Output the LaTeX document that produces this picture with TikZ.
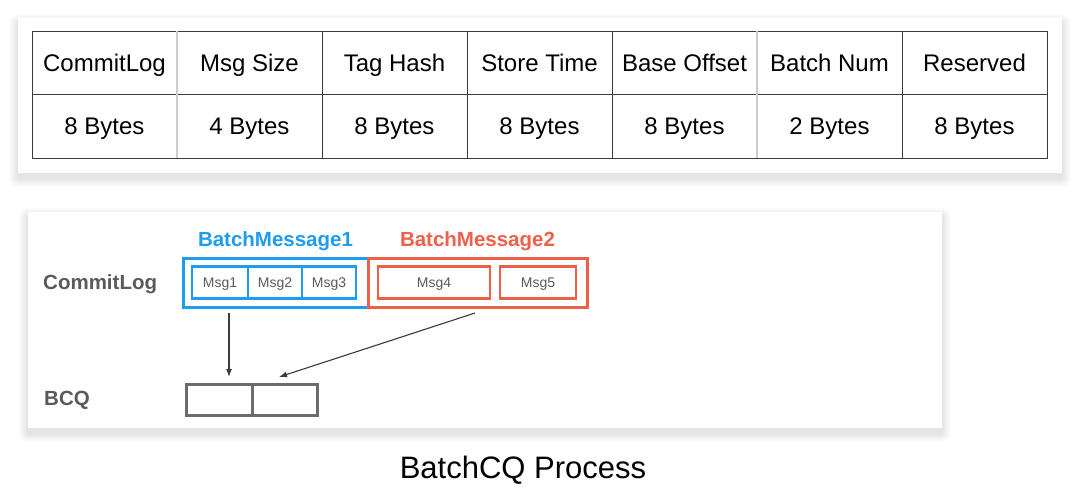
\documentclass[tikz,border=0pt]{standalone}
\usepackage{fontspec}
\setmainfont{Liberation Sans}
\usetikzlibrary{positioning,arrows.meta}
\definecolor{LineGray}{HTML}{3A3A3A}
\definecolor{SoftGray}{HTML}{CDCDCD}
\definecolor{LabelGray}{HTML}{5A5A5A}
\definecolor{BoxGray}{HTML}{6B6B6B}
\definecolor{BatchBlue}{HTML}{1E9CF0}
\definecolor{BatchRed}{HTML}{EF604B}

\begin{document}
\begin{tikzpicture}[x=1pt, y=-1pt,
    cell/.style={draw=LineGray, line width=1pt, outer sep=0pt, inner sep=0pt,
      minimum width=145pt, minimum height=63.5pt, text height=17pt, text depth=0pt,
      font=\fontsize{24}{28}\selectfont},
    batch/.style={line width=3pt, outer sep=0pt, inner sep=0pt, minimum height=49pt},
    msg/.style={line width=2.5pt, outer sep=0pt, inner sep=0pt, minimum height=32pt,
      text height=10pt, text depth=0pt, text=LabelGray, font=\fontsize{14}{16}\selectfont},
    slot/.style={draw=BoxGray, line width=3pt, outer sep=0pt, minimum height=31pt},
    rowlabel/.style={anchor=west, inner sep=0pt, text=LabelGray, font=\bfseries\fontsize{20.5}{24}\selectfont},
    batchlabel/.style={inner sep=0pt, font=\bfseries\fontsize{20.5}{24}\selectfont},
    arr/.style={-{Latex[length=8pt, width=6pt]}, line width=1.1pt, draw=LineGray}
  ]
    \fill[white] (0,0) rectangle (1080,500);
    \useasboundingbox (0,0) rectangle (1080,500);

    % soft card shadows
    \foreach \k in {1,...,9} {
      \fill[black, opacity=0.011, rounded corners=\k pt] (18-\k,18-\k+5) rectangle (1062+\k,173+\k+5);
      \fill[black, opacity=0.012, rounded corners=\k pt] (28-\k,212-\k+5) rectangle (942+\k,428+\k+5);
    }
    \fill[white] (18,18) rectangle (1062,173);
    \fill[white] (28,212) rectangle (942,428);

    % header table
    \foreach \name/\size [count=\i] in {CommitLog/8, Msg Size/4, Tag Hash/8, Store Time/8,
        Base Offset/8, Batch Num/2, Reserved/8} {
      \node[cell] (h\i) at ({32+145*(\i-0.5)},63) {\name};
      \node[cell, below=0pt of h\i] (v\i) {\size\ Bytes};
    }
    \draw[SoftGray, line width=1.2pt] (h2.north west) -- (v2.south west);
    \draw[SoftGray, line width=1.2pt] (h6.north west) -- (v6.south west);

    % commit log
    \node[rowlabel] (cl) at (43,284) {CommitLog};
    \node[rowlabel] (bcq) at (44,400) {BCQ};

    \node[batch, draw=BatchBlue, minimum width=185pt] (bm1) at (275.5,282.5) {};
    \node[batch, draw=BatchRed, minimum width=219pt, right=0pt of bm1] (bm2) {};
    \node[batchlabel, text=BatchBlue, above=7pt of bm1] (bl1) {BatchMessage1};
    \node[batchlabel, text=BatchRed, above=7pt of bm2] (bl2) {BatchMessage2};

    \node[msg, draw=BatchBlue, minimum width=56pt, anchor=west] (m1) at ([xshift=9pt]bm1.west) {Msg1};
    \node[msg, draw=BatchBlue, minimum width=54pt, right=0pt of m1] (m2) {Msg2};
    \node[msg, draw=BatchBlue, minimum width=54pt, right=0pt of m2] (m3) {Msg3};
    \node[msg, draw=BatchRed, minimum width=112pt, anchor=west] (m4) at ([xshift=10pt]bm2.west) {Msg4};
    \node[msg, draw=BatchRed, minimum width=76pt, right=10pt of m4] (m5) {Msg5};

    % consume queue
    \node[slot, minimum width=66pt, anchor=west] (q1) at (186,399.5) {};
    \node[slot, minimum width=65pt, right=0pt of q1] (q2) {};

    \draw[arr] ([xshift=46pt, yshift=-6pt]bm1.south west) -- ([xshift=43pt, yshift=7pt]q1.north west);
    \draw[arr] ([xshift=107pt, yshift=-6pt]bm2.south west) -- ([xshift=27pt, yshift=7pt]q2.north west);

    \node[font=\fontsize{31}{36}\selectfont] (title) at (523,470) {BatchCQ Process};
\end{tikzpicture}
\end{document}
